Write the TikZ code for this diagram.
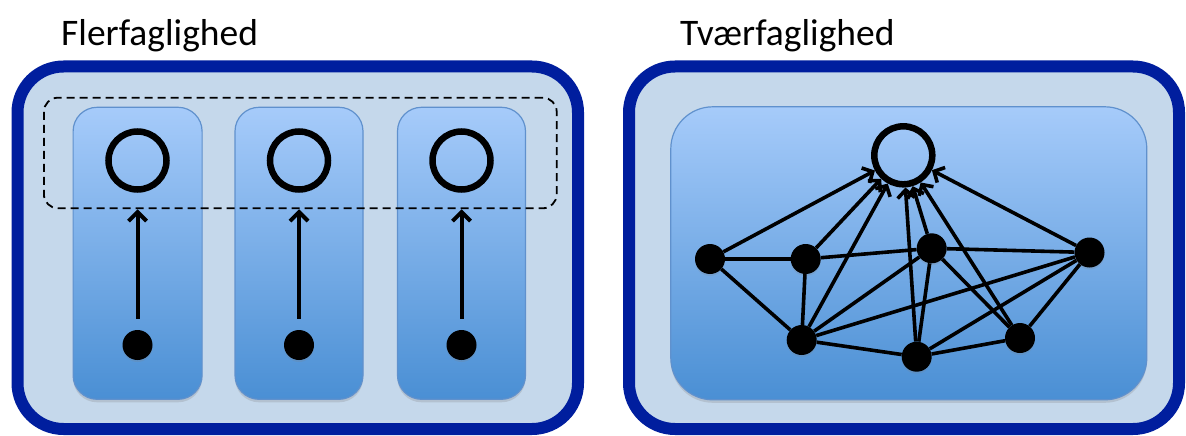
\documentclass[tikz,border=0pt]{standalone}
\usepackage{fontspec}
\setmainfont{Carlito}
\usetikzlibrary{arrows.meta,shadows}
\definecolor{frameblue}{RGB}{0,30,158}
\definecolor{panelfill}{RGB}{197,216,235}
\definecolor{boxtop}{RGB}{166,203,250}
\definecolor{boxbottom}{RGB}{74,143,212}
\definecolor{boxedge}{RGB}{96,145,205}
\begin{document}
\begin{tikzpicture}[x=1pt,y=-1pt,
  panelbox/.style={rectangle,draw=frameblue,line width=12pt,fill=panelfill,
    rounded corners=46pt,inner sep=0pt},
  subjectbox/.style={rectangle,draw=boxedge,line width=1.2pt,
    top color=boxtop,bottom color=boxbottom,rounded corners=#1,inner sep=0pt,
    drop shadow={shadow xshift=0pt,shadow yshift=-3pt,opacity=0.25}},
  groupbox/.style={rectangle,draw=black,line width=1.8pt,dash pattern=on 8pt off 5pt,
    rounded corners=14pt,inner sep=0pt},
  goal/.style={circle,draw=black,line width=6.5pt,minimum size=58pt,inner sep=0pt},
  dot/.style={circle,fill=black,minimum size=30pt,inner sep=0pt,
    drop shadow={shadow xshift=0pt,shadow yshift=-2pt,opacity=0.2}},
  title/.style={anchor=base west,inner sep=0pt,font=\fontsize{37.5}{44}\selectfont},
  rise/.style={line width=4pt,-{Straight Barb[length=9pt,width=18pt]},
    shorten <=11pt,shorten >=16.5pt},
  link/.style={line width=3.6pt},
  feed/.style={line width=3.6pt,-{Straight Barb[length=8pt,width=17pt]}}
]
\useasboundingbox (0,0) rectangle (1186,436);
\fill[white] (0,0) rectangle (1186,436);

% titles
\node[title] (t1) at (61,46) {Flerfaglighed};
\node[title] (t2) at (680,46) {Tværfaglighed};

% outer panels
\node[panelbox,minimum width=560.5pt,minimum height=362.5pt] (lpanel) at (297.75,247.75) {};
\node[panelbox,minimum width=550pt,minimum height=362.5pt] (rpanel) at (904,247.75) {};

% left panel: three subject columns
\node[subjectbox=24pt,minimum width=129pt,minimum height=292pt] (col1) at (137.6,253.3) {};
\node[subjectbox=24pt,minimum width=128pt,minimum height=292pt] (col2) at (299,253.3) {};
\node[subjectbox=24pt,minimum width=128pt,minimum height=292pt] (col3) at (461.5,253.3) {};

\node[groupbox,minimum width=512.8pt,minimum height=110.6pt] (group) at (300.3,153) {};

\foreach \i/\x in {1/137.5,2/299,3/461.5}{
  \node[goal] (c\i) at (\x,160.5) {};
  \node[dot] (d\i) at (\x,345) {};
  \draw[rise] (d\i) -- (c\i);
}

% right panel: shared box with a network
\node[subjectbox=42pt,minimum width=476pt,minimum height=293pt] (inner) at (908.8,253.3) {};

\node[goal] (o) at (903.3,155.3) {};
\node[dot] (a) at (710,259) {};
\node[dot] (b) at (805.7,259) {};
\node[dot] (c) at (931.7,248.3) {};
\node[dot] (d) at (1089.5,252.5) {};
\node[dot] (e) at (801.7,340) {};
\node[dot] (f) at (916.7,356.7) {};
\node[dot] (g) at (1020,338) {};

\foreach \u/\v in {a/b,a/e,b/c,b/e,c/d,c/e,c/f,c/g,d/e,d/f,d/g,e/f,f/g}
  \draw[link] (\u) -- (\v);
\foreach \u in {a,b,c,d,e,f,g}
  \draw[feed] (\u) -- (o);
\end{tikzpicture}
\end{document}
